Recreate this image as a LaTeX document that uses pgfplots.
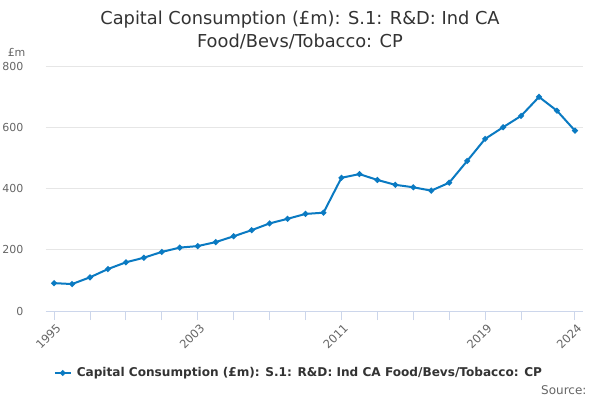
\documentclass[border=0pt]{standalone}
\usepackage{pgfplots}
\pgfplotsset{compat=1.18}
\usepackage{fontspec}
\setmainfont{DejaVu Sans}
\definecolor{linec}{HTML}{0A7AC2}
\definecolor{gridc}{HTML}{E6E6E6}
\definecolor{axisc}{HTML}{CCD6EB}
\definecolor{txt}{HTML}{333333}
\definecolor{lbl}{HTML}{666666}
\begin{document}
\begin{tikzpicture}[x=1pt,y=1pt]
\path[fill=white] (0,0) rectangle (600,400);
\begin{axis}[
  at={(46pt,89pt)}, anchor=south west,
  scale only axis, width=537pt, height=245pt,
  xmin=1994.55, xmax=2024.45, ymin=0, ymax=800,
  axis x line*=bottom,
  separate axis lines,
  x axis line style={draw=axisc, line width=1pt, -},
  y axis line style={draw=none},
  ytick={0,200,400,600,800},
  ymajorgrids, grid style={gridc, line width=0.8pt},
  ytick style={draw=none},
  xtick={1995,2003,2011,2019,2024},
  minor xtick={1997,1999,2001,2005,2007,2009,2013,2015,2017,2021},
  xtick style={draw=axisc, line width=1pt},
  minor x tick style={draw=axisc, line width=1pt},
  tick align=outside, major tick length=9pt, minor tick length=9pt,
  xticklabel style={rotate=45, anchor=north east, font=\fontsize{11.5}{13}\selectfont, text=lbl, inner sep=1pt, yshift=-2pt},
  yticklabel style={font=\fontsize{11}{13}\selectfont, text=lbl, xshift=-10pt},
  /pgf/number format/assume math mode=true,
  /pgf/number format/1000 sep={},
  clip=false,
  legend style={at={(0.471,-0.253)}, anchor=center, draw=none, fill=none, font=\bfseries\fontsize{12.1}{15}\selectfont, text=txt},
  legend image code/.code={\draw[linec, line width=2pt] (-2pt,0pt) -- (14pt,0pt); \fill[linec] (6pt,0pt) circle (1.8pt);},
]
\addplot[linec, line width=2pt, mark=*, mark size=1.8pt] coordinates {
(1995,91) (1996,88) (1997,110) (1998,137) (1999,159) (2000,174)
(2001,193) (2002,207) (2003,212) (2004,225) (2005,244) (2006,264)
(2007,286) (2008,301) (2009,317) (2010,321) (2011,435) (2012,447)
(2013,428) (2014,412) (2015,404) (2016,393) (2017,419) (2018,490)
(2019,562) (2020,600) (2021,637) (2022,699) (2023,654) (2024,589)
};
\addlegendentry{\hspace{3pt}Capital Consumption (£m): S.1: R\&D: Ind CA Food/Bevs/Tobacco: CP}
\end{axis}
\node[text=txt, font=\fontsize{17.8}{21}\selectfont, align=center] at (300,370) {Capital Consumption (£m): S.1: R\&D: Ind CA\\[2pt]Food/Bevs/Tobacco: CP};
\node[text=lbl, font=\fontsize{11}{13}\selectfont, anchor=east] at (29,348) {£m};
\node[text=lbl, font=\fontsize{12}{14}\selectfont, anchor=east] at (590,10) {Source:};
\pgfresetboundingbox
\path (0,0) rectangle (600,400);
\end{tikzpicture}
\end{document}
